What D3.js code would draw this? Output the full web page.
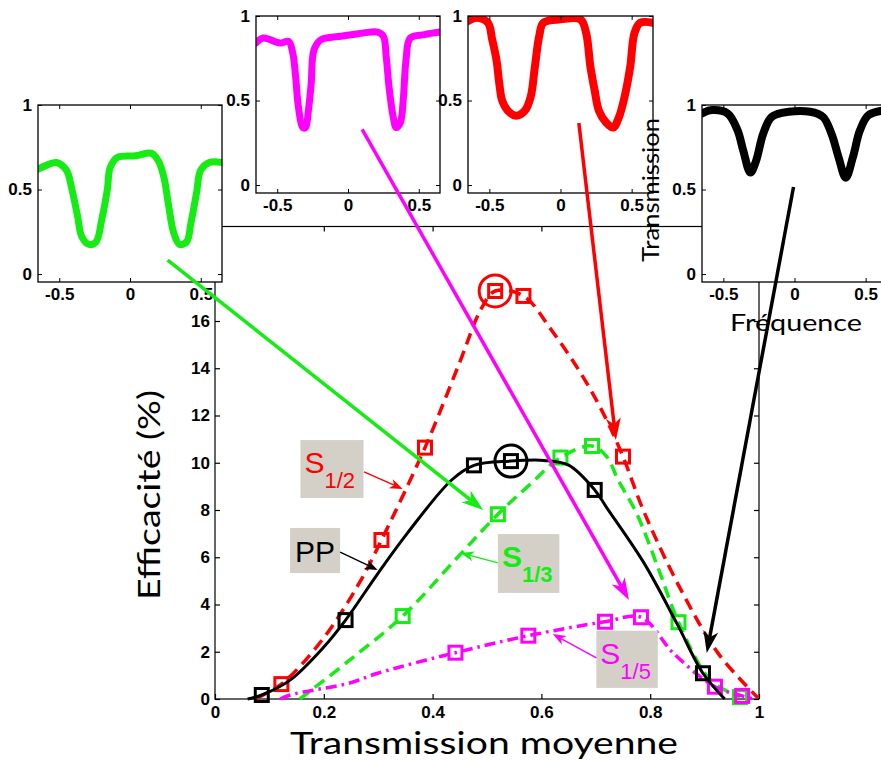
<!DOCTYPE html>
<html><head><meta charset="utf-8">
<script src="https://cdn.jsdelivr.net/npm/d3@7"></script>
<style>body{margin:0;background:#fff}svg{display:block}</style>
</head><body>
<svg id="c" width="881" height="760"></svg>
<script>
// ---------------- DATA ----------------
// Main chart: efficiency (%) vs mean transmission
const xTicks = [0, 0.2, 0.4, 0.6, 0.8, 1];
const xTickLabels = ["0", "0.2", "0.4", "0.6", "0.8", "1"];
const yTicks = [0, 2, 4, 6, 8, 10, 12, 14, 16, 18, 20];
const yTickLabels = ["0", "2", "4", "6", "8", "10", "12", "14", "16", "18", "20"];

// S1/2 (red dashed)
const s12CurveX = [0.077, 0.122, 0.197, 0.265, 0.306, 0.386, 0.449, 0.489, 0.515, 0.567, 0.619, 0.680, 0.720, 0.750, 0.789, 0.857, 0.925, 0.998];
const s12CurveY = [0.04, 0.63, 2.5, 4.9, 6.73, 10.64, 14.2, 16.5, 17.27, 17.06, 15.6, 13.5, 11.8, 10.26, 7.9, 4.6, 1.93, 0.05];
const s12MarkX = [0.122, 0.306, 0.386, 0.515, 0.567, 0.750];
const s12MarkY = [0.63, 6.73, 10.64, 17.27, 17.06, 10.26];

// PP (black solid)
const ppCurveX = [0.060, 0.086, 0.138, 0.200, 0.240, 0.299, 0.353, 0.435, 0.476, 0.544, 0.605, 0.650, 0.698, 0.720, 0.789, 0.849, 0.897, 0.937];
const ppCurveY = [0.0, 0.17, 0.8, 2.2, 3.34, 5.3, 7.0, 9.27, 9.89, 10.07, 10.1, 9.9, 8.85, 8.1, 5.74, 3.2, 1.09, 0.0];
const ppMarkX = [0.086, 0.240, 0.476, 0.544, 0.698, 0.897];
const ppMarkY = [0.17, 3.34, 9.89, 10.07, 8.85, 1.09];

// S1/3 (green dashed)
const s13CurveX = [0.156, 0.245, 0.345, 0.450, 0.520, 0.580, 0.635, 0.693, 0.720, 0.741, 0.775, 0.816, 0.852, 0.911, 0.965];
const s13CurveY = [0.0, 1.6, 3.51, 6.1, 7.82, 9.1, 10.22, 10.71, 10.26, 9.27, 7.86, 5.46, 3.25, 0.8, 0.08];
const s13MarkX = [0.345, 0.520, 0.635, 0.693, 0.852, 0.965];
const s13MarkY = [3.51, 7.82, 10.22, 10.71, 3.25, 0.08];

// S1/5 (magenta dash-dot)
const s15CurveX = [0.120, 0.138, 0.248, 0.299, 0.442, 0.576, 0.717, 0.783, 0.843, 0.919, 0.969, 0.990];
const s15CurveY = [0.0, 0.17, 0.68, 1.09, 1.96, 2.68, 3.27, 3.46, 1.93, 0.52, 0.13, 0.0];
const s15MarkX = [0.442, 0.576, 0.717, 0.783, 0.919, 0.969];
const s15MarkY = [1.96, 2.68, 3.27, 3.46, 0.52, 0.13];

// highlighted (circled) points
const circleX = [0.515, 0.544];
const circleY = [17.27, 10.07];

// Inset spectra: transmission vs frequency
const insetXTicks = [-0.5, 0, 0.5];
const insetXTickLabels = ["-0.5", "0", "0.5"];
const insetYTicks = [0, 0.5, 1];
const insetYTickLabels = ["0", "0.5", "1"];

const greenSpecX = [-0.65, -0.60, -0.52, -0.45, -0.41, -0.37, -0.34, -0.29, -0.24, -0.20, -0.16, -0.14, -0.09, 0.04, 0.15, 0.20, 0.24, 0.27, 0.31, 0.35, 0.40, 0.43, 0.47, 0.50, 0.56, 0.65];
const greenSpecY = [0.62, 0.64, 0.66, 0.615, 0.50, 0.34, 0.22, 0.175, 0.19, 0.32, 0.50, 0.63, 0.69, 0.70, 0.715, 0.67, 0.57, 0.42, 0.24, 0.175, 0.19, 0.30, 0.48, 0.615, 0.66, 0.66];

const magSpecX = [-0.65, -0.60, -0.48, -0.42, -0.39, -0.37, -0.35, -0.32, -0.30, -0.28, -0.26, -0.24, -0.19, -0.05, 0.11, 0.21, 0.25, 0.27, 0.29, 0.32, 0.34, 0.37, 0.39, 0.41, 0.44, 0.54, 0.65];
const magSpecY = [0.84, 0.87, 0.84, 0.85, 0.78, 0.64, 0.46, 0.34, 0.34, 0.44, 0.60, 0.80, 0.86, 0.88, 0.90, 0.905, 0.88, 0.76, 0.58, 0.40, 0.34, 0.37, 0.50, 0.74, 0.87, 0.89, 0.905];

const redSpecX = [-0.65, -0.59, -0.51, -0.48, -0.45, -0.43, -0.41, -0.37, -0.31, -0.25, -0.21, -0.18, -0.15, -0.12, 0.00, 0.14, 0.18, 0.21, 0.24, 0.27, 0.32, 0.37, 0.41, 0.45, 0.49, 0.52, 0.56, 0.65];
const redSpecY = [0.97, 0.99, 0.96, 0.86, 0.74, 0.60, 0.50, 0.44, 0.41, 0.44, 0.52, 0.70, 0.88, 0.96, 0.98, 0.98, 0.90, 0.70, 0.56, 0.44, 0.37, 0.34, 0.40, 0.52, 0.70, 0.90, 0.96, 0.96];

const blackSpecX = [-0.65, -0.58, -0.47, -0.40, -0.36, -0.31, -0.27, -0.22, -0.16, -0.04, 0.11, 0.20, 0.26, 0.31, 0.36, 0.41, 0.46, 0.52, 0.65];
const blackSpecY = [0.95, 0.97, 0.95, 0.85, 0.73, 0.60, 0.67, 0.83, 0.93, 0.96, 0.96, 0.93, 0.83, 0.69, 0.57, 0.69, 0.85, 0.94, 0.97];

// Arrows from insets (inset data coords) to main chart (main data coords)
const bigArrowStartX = [0.266, 0.10, 0.129, -0.007];   // green, magenta, red, black insets
const bigArrowStartY = [0.083, 0.33, 0.367, 0.515];
const bigArrowEndX = [0.493, 0.761, 0.737, 0.904];
const bigArrowEndY = [8.0, 4.19, 10.96, 1.95];

// Labels (main data coords)
const labelMain = ["S", "PP", "S", "S"];
const labelSub = ["1/2", "", "1/3", "1/5"];
const labelBoxX0 = [0.157, 0.138, 0.520, 0.701];
const labelBoxX1 = [0.273, 0.230, 0.633, 0.814];
const labelBoxY0 = [10.96, 7.24, 6.98, 2.89];
const labelBoxY1 = [8.51, 5.33, 4.49, 0.47];
const labelArrowX0 = [0.274, 0.230, 0.520, 0.701];
const labelArrowY0 = [9.61, 6.22, 5.76, 1.74];
const labelArrowX1 = [0.345, 0.299, 0.452, 0.621];
const labelArrowY1 = [8.89, 5.46, 6.18, 2.75];

// ---------------- STYLE ----------------
const RED = "#ff0000", GREEN = "#14ec14", MAG = "#ff00ff", BLACK = "#000000";
const TICKFONT = "'Liberation Sans', Arial, sans-serif";
const TITLEFONT = "Lato, 'Open Sans', sans-serif";

const svg = d3.select("#c");
const x = d3.scaleLinear().domain([0, 1]).range([215, 759]);
const y = d3.scaleLinear().domain([0, 20]).range([699, 226.5]);

// ---------- main axes ----------
const main = svg.append("g");
main.append("rect").attr("x", x(0)).attr("y", y(20)).attr("width", x(1) - x(0)).attr("height", y(0) - y(20))
  .attr("fill", "#fff").attr("stroke", "#000").attr("stroke-width", 1.2);

const xa = main.append("g").attr("transform", `translate(0,${y(0)})`)
  .call(d3.axisBottom(x).tickValues(xTicks).tickFormat((d, i) => xTickLabels[i]).tickSize(-5).tickPadding(7).tickSizeOuter(0));
const ya = main.append("g").attr("transform", `translate(${x(0)},0)`)
  .call(d3.axisLeft(y).tickValues(yTicks).tickFormat((d, i) => yTickLabels[i]).tickSize(-5).tickPadding(5).tickSizeOuter(0));
// mirror ticks
main.append("g").attr("transform", `translate(0,${y(20)})`)
  .call(d3.axisTop(x).tickValues(xTicks).tickFormat("").tickSize(-5).tickSizeOuter(0));
main.append("g").attr("transform", `translate(${x(1)},0)`)
  .call(d3.axisRight(y).tickValues(yTicks).tickFormat("").tickSize(-5).tickSizeOuter(0));
main.selectAll(".domain").remove();
main.selectAll(".tick line").attr("stroke", "#000").attr("stroke-width", 1.2);
main.selectAll(".tick text").attr("font-family", TICKFONT).attr("font-weight", "bold").attr("font-size", 17).attr("fill", "#000");
xa.selectAll(".tick text").attr("dy", "0.71em");

// ---------- curves ----------
const line = d3.line().x(d => x(d[0])).y(d => y(d[1])).curve(d3.curveCatmullRom.alpha(0.5));
const zip = (a, b) => a.map((v, i) => [v, b[i]]);

function series(cx, cy, mx, my, color, dash, w) {
  main.append("path").attr("d", line(zip(cx, cy))).attr("fill", "none").attr("stroke", color)
    .attr("stroke-width", w).attr("stroke-dasharray", dash);
  const s = 13;
  main.selectAll(null).data(zip(mx, my)).enter().append("rect")
    .attr("x", d => x(d[0]) - s / 2).attr("y", d => y(d[1]) - s / 2).attr("width", s).attr("height", s)
    .attr("fill", "none").attr("stroke", color).attr("stroke-width", 3);
}
series(s13CurveX, s13CurveY, s13MarkX, s13MarkY, GREEN, "12,7", 3.5);
series(s15CurveX, s15CurveY, s15MarkX, s15MarkY, MAG, "11,5,2.5,5", 3.5);
series(s12CurveX, s12CurveY, s12MarkX, s12MarkY, RED, "12,7", 3.5);
series(ppCurveX, ppCurveY, ppMarkX, ppMarkY, BLACK, null, 3);

main.selectAll(null).data(zip(circleX, circleY)).enter().append("circle")
  .attr("cx", d => x(d[0])).attr("cy", d => y(d[1])).attr("r", 16)
  .attr("fill", "none").attr("stroke", (d, i) => i === 0 ? RED : BLACK).attr("stroke-width", 3);

// ---------- arrows ----------
function arrow(g, x1, y1, x2, y2, color, w, L, W) {
  const dx = x2 - x1, dy = y2 - y1, len = Math.hypot(dx, dy), ux = dx / len, uy = dy / len, px = -uy, py = ux;
  const bx = x2 - ux * L, by = y2 - uy * L;
  const nx = x2 - ux * L * 0.72, ny = y2 - uy * L * 0.72;
  g.append("line").attr("x1", x1).attr("y1", y1).attr("x2", nx).attr("y2", ny)
    .attr("stroke", color).attr("stroke-width", w);
  g.append("path").attr("d", `M${x2},${y2}L${bx + px * W / 2},${by + py * W / 2}L${nx},${ny}L${bx - px * W / 2},${by - py * W / 2}Z`)
    .attr("fill", color);
}

// ---------- label boxes ----------
const labColors = [RED, BLACK, GREEN, MAG];
const lab = svg.append("g");
labelMain.forEach((t, i) => {
  const bx0 = x(labelBoxX0[i]), bx1 = x(labelBoxX1[i]), by0 = y(labelBoxY0[i]), by1 = y(labelBoxY1[i]);
  lab.append("rect").attr("x", bx0).attr("y", by0).attr("width", bx1 - bx0).attr("height", by1 - by0).attr("fill", "#d4d0c8");
  const bold = i === 2 ? "bold" : "normal";
  if (labelSub[i]) {
    const tx = lab.append("text").attr("x", bx0 + 4).attr("y", by0 + 33).attr("font-family", TICKFONT)
      .attr("fill", labColors[i]).attr("font-weight", bold);
    tx.append("tspan").attr("font-size", 30).text(t);
    tx.append("tspan").attr("font-size", 22).attr("dy", 15).text(labelSub[i]);
  } else {
    lab.append("text").attr("x", (bx0 + bx1) / 2).attr("y", by0 + 34).attr("text-anchor", "middle")
      .attr("font-family", TICKFONT).attr("font-size", 30).attr("fill", labColors[i]).text(t);
  }
  arrow(lab, x(labelArrowX0[i]), y(labelArrowY0[i]), x(labelArrowX1[i]), y(labelArrowY1[i]), labColors[i], 1.4, 13, 10);
});

// ---------- insets ----------
const insetDefs = [
  { left: 38, top: 105, w: 184, h: 177, xs: greenSpecX, ys: greenSpecY, color: GREEN, sw: 7 },
  { left: 256, top: 16, w: 184, h: 177, xs: magSpecX, ys: magSpecY, color: MAG, sw: 7 },
  { left: 468, top: 16, w: 185, h: 177, xs: redSpecX, ys: redSpecY, color: RED, sw: 8 },
  { left: 702, top: 105, w: 185, h: 177, xs: blackSpecX, ys: blackSpecY, color: BLACK, sw: 8 }
];
const insetScales = [];
insetDefs.forEach((o, k) => {
  const ix = d3.scaleLinear().domain([-0.65, 0.65]).range([o.left, o.left + o.w]);
  const iy = d3.scaleLinear().domain([-0.047, 1]).range([o.top + o.h, o.top]);
  insetScales.push([ix, iy]);
  const g = svg.append("g");
  g.append("rect").attr("x", o.left).attr("y", o.top).attr("width", o.w).attr("height", o.h).attr("fill", "#fff");
  const cid = "clip" + k;
  g.append("clipPath").attr("id", cid).append("rect").attr("x", o.left).attr("y", o.top).attr("width", o.w).attr("height", o.h);
  const il = d3.line().x(d => ix(d[0])).y(d => iy(d[1])).curve(d3.curveCatmullRom.alpha(0.5));
  g.append("path").attr("d", il(zip(o.xs, o.ys))).attr("clip-path", `url(#${cid})`)
    .attr("fill", "none").attr("stroke", o.color).attr("stroke-width", o.sw).attr("stroke-linejoin", "round").attr("stroke-linecap", "round");
  const ax = g.append("g").attr("transform", `translate(0,${o.top + o.h})`)
    .call(d3.axisBottom(ix).tickValues(insetXTicks).tickFormat((d, i) => insetXTickLabels[i]).tickSize(-4).tickPadding(6).tickSizeOuter(0));
  g.append("g").attr("transform", `translate(${o.left},0)`)
    .call(d3.axisLeft(iy).tickValues(insetYTicks).tickFormat((d, i) => insetYTickLabels[i]).tickSize(-4).tickPadding(6).tickSizeOuter(0));
  g.append("g").attr("transform", `translate(0,${o.top})`)
    .call(d3.axisTop(ix).tickValues(insetXTicks).tickFormat("").tickSize(-4).tickSizeOuter(0));
  g.append("g").attr("transform", `translate(${o.left + o.w},0)`)
    .call(d3.axisRight(iy).tickValues(insetYTicks).tickFormat("").tickSize(-4).tickSizeOuter(0));
  g.selectAll(".domain").remove();
  g.selectAll(".tick line").attr("stroke", "#000").attr("stroke-width", 1);
  g.selectAll(".tick text").attr("font-family", TICKFONT).attr("font-weight", "bold").attr("font-size", 17).attr("fill", "#000");
  ax.selectAll(".tick text").attr("dy", "0.71em");
  g.append("rect").attr("x", o.left).attr("y", o.top).attr("width", o.w).attr("height", o.h)
    .attr("fill", "none").attr("stroke", "#000").attr("stroke-width", 1.3);
});

// ---------- titles ----------
svg.append("text").attr("transform", "translate(160,495) rotate(-90)").attr("text-anchor", "middle")
  .attr("font-family", TITLEFONT).attr("font-size", 31).attr("textLength", 210).attr("lengthAdjust", "spacingAndGlyphs")
  .attr("fill", "#000").text("Efficacité (%)");
svg.append("text").attr("x", 484).attr("y", 754).attr("text-anchor", "middle")
  .attr("font-family", TITLEFONT).attr("font-size", 31).attr("textLength", 388).attr("lengthAdjust", "spacingAndGlyphs")
  .attr("fill", "#000").text("Transmission moyenne");
svg.append("text").attr("transform", "translate(659,190) rotate(-90)").attr("text-anchor", "middle")
  .attr("font-family", TITLEFONT).attr("font-size", 24).attr("textLength", 144).attr("lengthAdjust", "spacingAndGlyphs")
  .attr("fill", "#000").text("Transmission");
svg.append("text").attr("x", 796).attr("y", 331).attr("text-anchor", "middle")
  .attr("font-family", TITLEFONT).attr("font-size", 24).attr("textLength", 132).attr("lengthAdjust", "spacingAndGlyphs")
  .attr("fill", "#000").text("Fréquence");

// ---------- big arrows ----------
const bigColors = [GREEN, MAG, RED, BLACK];
const ag = svg.append("g");
bigColors.forEach((c, i) => {
  const [ix, iy] = insetScales[i];
  arrow(ag, ix(bigArrowStartX[i]), iy(bigArrowStartY[i]), x(bigArrowEndX[i]), y(bigArrowEndY[i]), c, 3.5, 22, 15);
});
</script>
</body></html>
